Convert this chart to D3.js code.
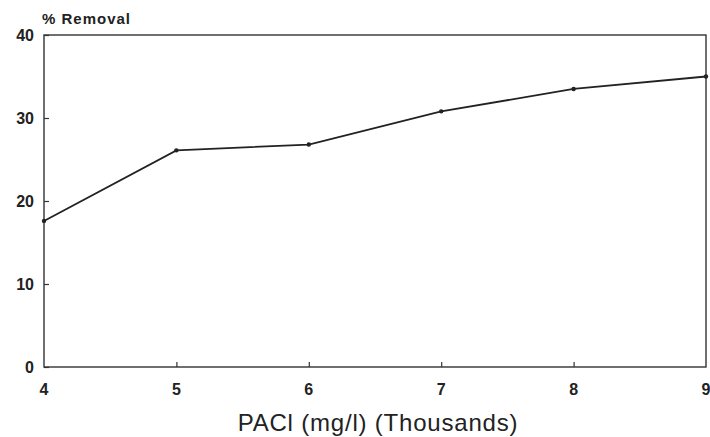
<!DOCTYPE html>
<html>
<head>
<meta charset="utf-8">
<script src="https://cdn.jsdelivr.net/npm/d3@7"></script>
<style>
  body { margin: 0; background: #fff; }
  text { font-family: 'Liberation Sans', Arial, sans-serif; fill: #222; }
</style>
</head>
<body>
<div id="chart"></div>
<script>
const pacl = [4, 5, 6, 7, 8, 9];
const removal = [17.6, 26.1, 26.8, 30.8, 33.5, 35.0];
const yTicks = [0, 10, 20, 30, 40];
const xTicks = [4, 5, 6, 7, 8, 9];

const width = 710, height = 437;
const margin = { top: 35, right: 4, bottom: 70, left: 44 };

const svg = d3.select('#chart').append('svg')
  .attr('width', width).attr('height', height);

const x = d3.scaleLinear().domain([4, 9]).range([margin.left, width - margin.right]);
const y = d3.scaleLinear().domain([0, 40]).range([height - margin.bottom, margin.top]);

// Frame
svg.append('rect')
  .attr('x', x(4)).attr('y', y(40))
  .attr('width', x(9) - x(4)).attr('height', y(0) - y(40))
  .attr('fill', 'none').attr('stroke', '#333').attr('stroke-width', 1.4);

// Y axis (ticks point inward)
const yAxis = svg.append('g')
  .attr('transform', `translate(${x(4)},0)`)
  .call(d3.axisRight(y).tickValues(yTicks).tickSize(5).tickFormat(''));
yAxis.select('.domain').remove();
yAxis.selectAll('line').attr('stroke', '#333').attr('stroke-width', 1.2);

svg.selectAll('.ylab').data(yTicks).join('text')
  .attr('class', 'ylab')
  .attr('x', x(4) - 10).attr('y', d => y(d) + 6)
  .attr('text-anchor', 'end')
  .style('font-size', '16px').style('font-weight', 'bold')
  .text(d => d);

// X axis (ticks point up)
const xAxis = svg.append('g')
  .attr('transform', `translate(0,${y(0)})`)
  .call(d3.axisTop(x).tickValues(xTicks.slice(1, -1)).tickSize(5).tickFormat(''));
xAxis.select('.domain').remove();
xAxis.selectAll('line').attr('stroke', '#333').attr('stroke-width', 1.2);

svg.selectAll('.xlab').data(xTicks).join('text')
  .attr('class', 'xlab')
  .attr('x', d => x(d)).attr('y', y(0) + 28)
  .attr('text-anchor', 'middle')
  .style('font-size', '16px').style('font-weight', 'bold')
  .text(d => d);

// Titles
svg.append('text')
  .attr('x', 42).attr('y', 24)
  .style('font-size', '15px').style('font-weight', 'bold')
  .style('letter-spacing', '1px')
  .text('% Removal');

svg.append('text')
  .attr('x', 378).attr('y', 431)
  .attr('text-anchor', 'middle')
  .style('font-size', '24px')
  .style('letter-spacing', '0.8px')
  .text('PACl (mg/l) (Thousands)');

// Line
const line = d3.line().x((d, i) => x(pacl[i])).y(d => y(d));
svg.append('path')
  .datum(removal)
  .attr('d', line)
  .attr('fill', 'none')
  .attr('stroke', '#222')
  .attr('stroke-width', 1.8);

svg.selectAll('.pt').data(removal).join('circle')
  .attr('class', 'pt')
  .attr('cx', (d, i) => x(pacl[i])).attr('cy', d => y(d))
  .attr('r', 2.2).attr('fill', '#222');
</script>
</body>
</html>
